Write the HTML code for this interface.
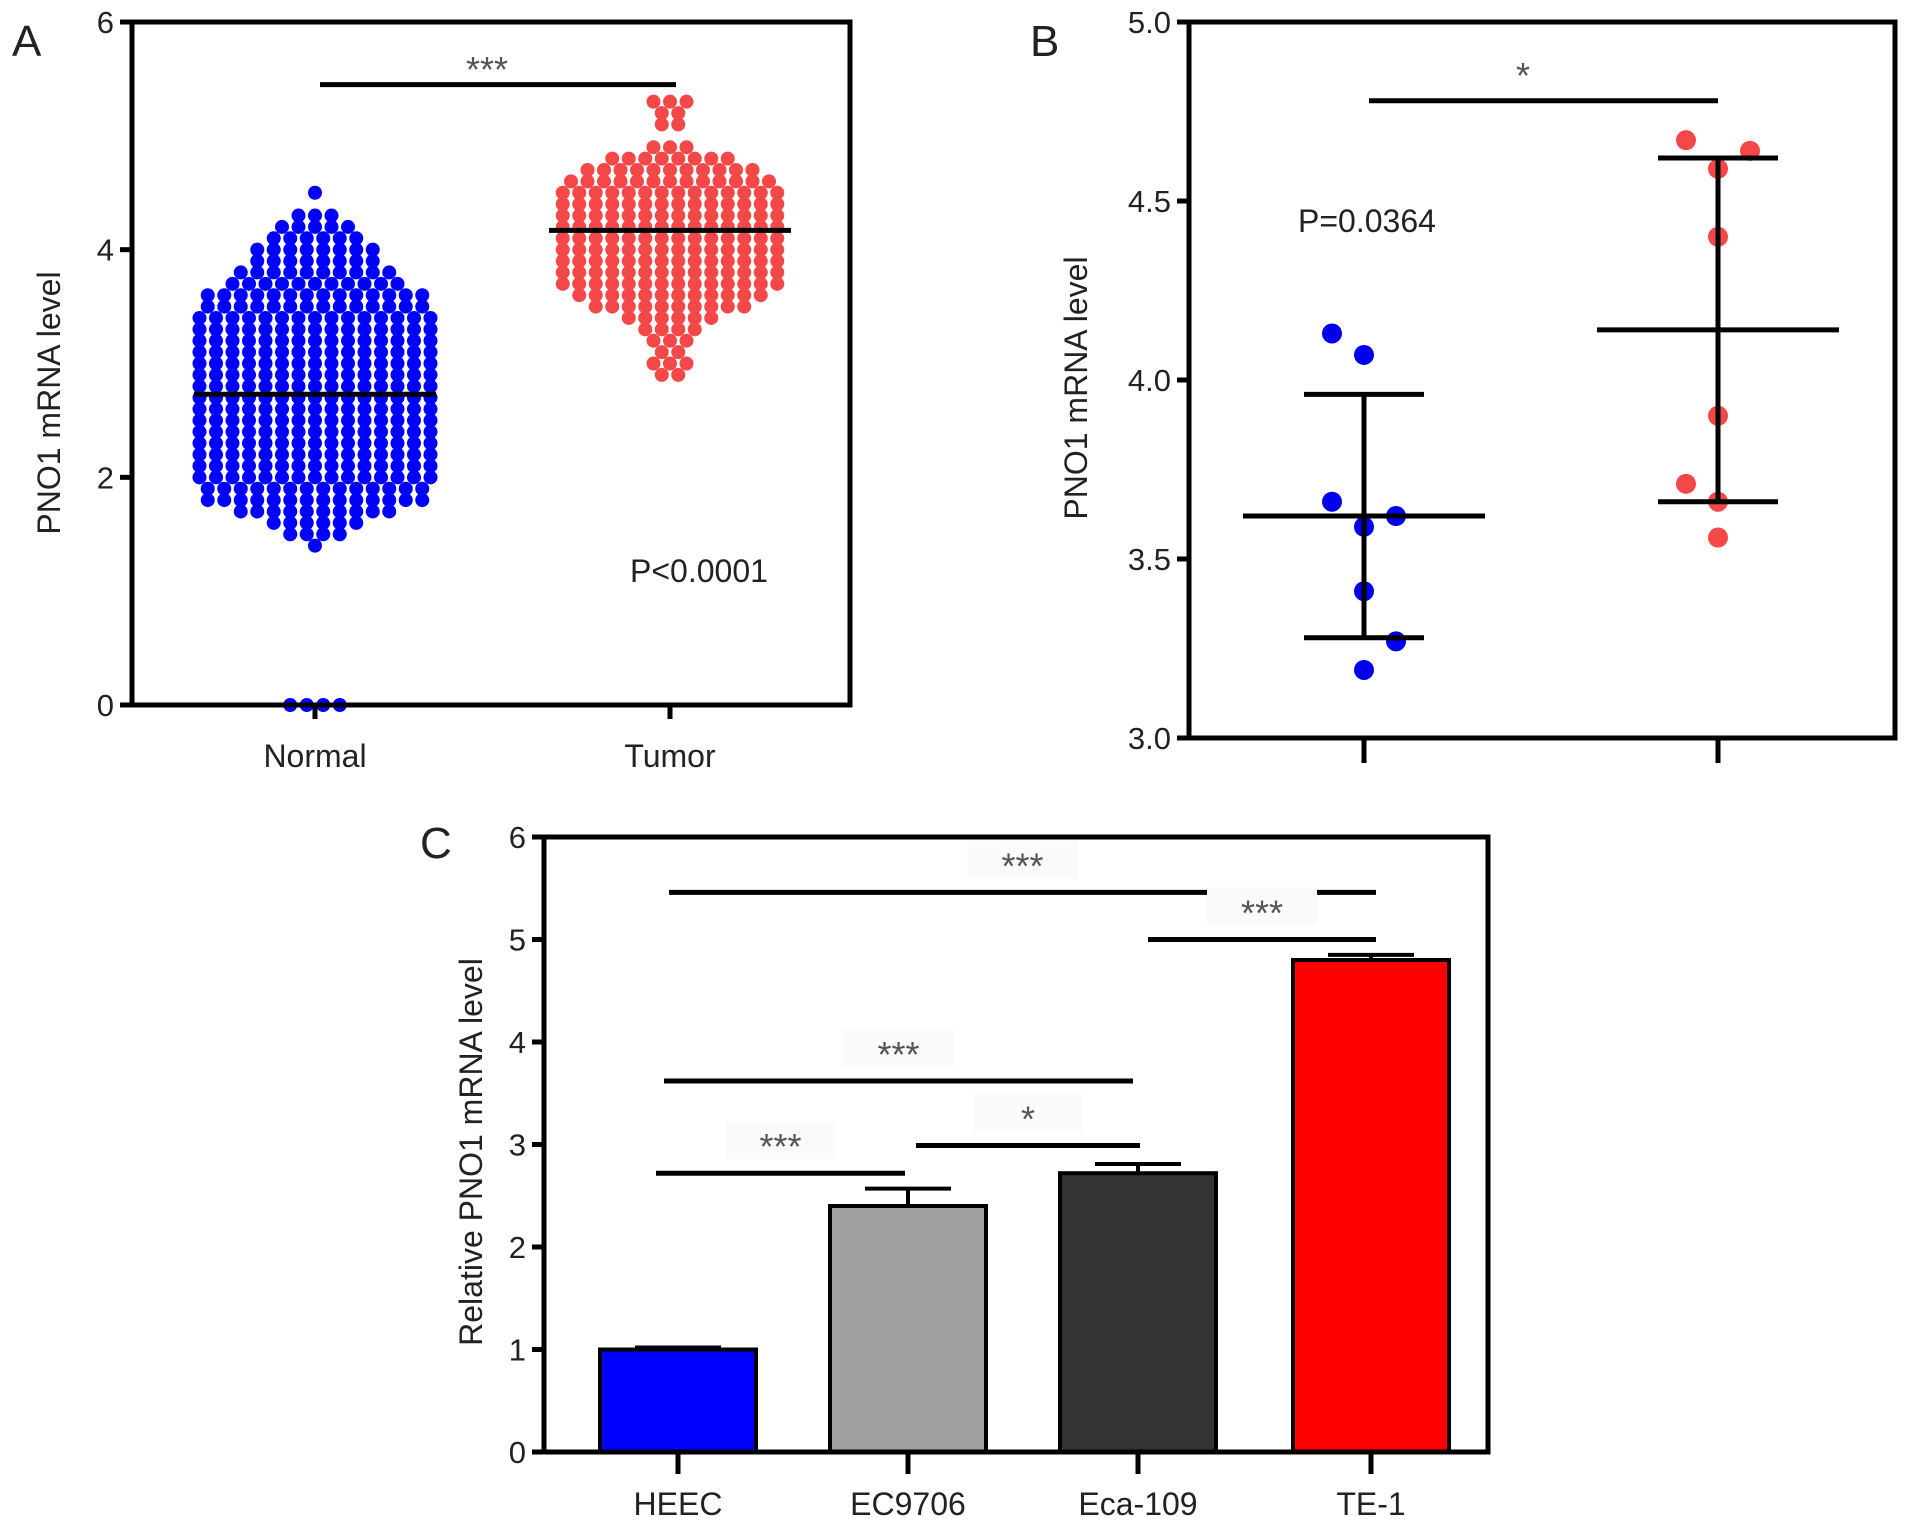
<!DOCTYPE html>
<html><head><meta charset="utf-8"><style>
html,body{margin:0;padding:0;background:#fff}
svg{display:block;font-family:"Liberation Sans",Arial,sans-serif}
</style></head><body>
<svg id="fig" width="1913" height="1528" viewBox="0 0 1913 1528" xmlns="http://www.w3.org/2000/svg"></svg>
<script>
// ---------- Panel A data ----------
const aGroups = ["Normal","Tumor"];
const aTicks = [0,2,4,6];
const aNormalLevels = [1.4,1.5,1.6,1.7,1.8,1.9,2.0,2.1,2.2,2.3,2.4,2.5,2.6,2.7,2.8,2.9,3.0,3.1,3.2,3.3,3.4,3.5,3.6,3.7,3.8,3.9,4.0,4.1,4.2,4.3,4.5,0];
const aNormalCounts = [1,4,6,10,14,14,15,15,15,15,15,15,15,15,15,15,15,15,15,15,15,14,14,11,10,8,8,6,5,3,1,4];
const aTumorLevels = [2.9,3.0,3.1,3.2,3.3,3.4,3.5,3.6,3.7,3.8,3.9,4.0,4.1,4.2,4.3,4.4,4.5,4.6,4.7,4.8,4.9,5.1,5.2,5.3];
const aTumorCounts = [2,3,2,3,4,6,10,12,14,14,14,14,14,14,14,14,14,13,11,8,3,2,2,3];
const aMeans = [2.73,4.17];
const aSigY = 5.45;
// ---------- Panel B data ----------
const bTicks = [3.0,3.5,4.0,4.5,5.0];
const bNormalVals = [4.13,4.07,3.66,3.62,3.59,3.41,3.27,3.19];
const bNormalJit = [-1,0,-1,1,0,0,1,0];
const bTumorVals = [4.67,4.64,4.59,4.40,3.90,3.71,3.66,3.56];
const bTumorJit = [-1,1,0,0,0,-1,0,0];
const bMeans = [3.62,4.14];
const bSD = [0.34,0.48];
const bSigY = 4.78;
// ---------- Panel C data ----------
const cCats = ["HEEC","EC9706","Eca-109","TE-1"];
const cVals = [1.0,2.4,2.72,4.8];
const cErr = [0.02,0.17,0.09,0.05];
const cColors = ["#0000ff","#a0a0a0","#333333","#ff0000"];
const cTicks = [0,1,2,3,4,5,6];
const cSigFrom = [0,2,0,1,0];
const cSigTo = [3,3,2,2,1];
const cSigY = [5.46,5.0,3.62,2.99,2.72];
const cSigLbl = ["***","***","***","*","***"];

const NS="http://www.w3.org/2000/svg";
const svg=document.getElementById('fig');
function el(tag,attrs,parent){const e=document.createElementNS(NS,tag);for(const k in attrs)e.setAttribute(k,attrs[k]);(parent||svg).appendChild(e);return e;}
function txt(s,attrs,parent){const t=el('text',attrs,parent);t.textContent=s;return t;}

// ===== Panel A =====
const A={x0:132,x1:850,y0:705,y1:22,min:0,max:6};
const ay=v=>A.y0-(v-A.min)/(A.max-A.min)*(A.y0-A.y1);
const aX=[315,670];
const gA=el('g',{});


function swarm(levels,counts,cx,color,g,name){
  levels.forEach((lv,i)=>{
    const n=counts[i];
    for(let k=0;k<n;k++){
      const off=(k-(n-1)/2)*16.5;
      const c=el('circle',{cx:cx+off,cy:ay(lv),r:7,fill:color},g);
      
      
    }
  });
}
swarm(aNormalLevels,aNormalCounts,aX[0],"#0000ff",gA,'normal-point');
swarm(aTumorLevels,aTumorCounts,aX[1],"#f44848",gA,'tumor-point');
aMeans.forEach((m,i)=>{const l=el('line',{x1:aX[i]-121,x2:aX[i]+121,y1:ay(m),y2:ay(m),stroke:'#000','stroke-width':5},gA);
});
const aFrame=el('rect',{x:A.x0,y:A.y1,width:A.x1-A.x0,height:A.y0-A.y1,fill:'none',stroke:'#000','stroke-width':5},gA);

aTicks.forEach(t=>{el('line',{x1:A.x0-12,x2:A.x0,y1:ay(t),y2:ay(t),stroke:'#000','stroke-width':5},gA);
 const tl=txt(String(t),{x:A.x0-18,y:ay(t)+11,'font-size':31,'text-anchor':'end',fill:'#222'},gA);
 });
aGroups.forEach((g,i)=>{el('line',{x1:aX[i],x2:aX[i],y1:A.y0,y2:A.y0+14,stroke:'#000','stroke-width':5},gA);
 const tl=txt(g,{x:aX[i],y:767,'font-size':32,'text-anchor':'middle',fill:'#222'},gA);
 });
const aSig=el('line',{x1:320,x2:676,y1:ay(aSigY),y2:ay(aSigY),stroke:'#000','stroke-width':5},gA);

let t;
t=txt('***',{x:487,y:82,'font-size':36,'text-anchor':'middle',fill:'#555'},gA);
t=txt('P<0.0001',{x:630,y:582,'font-size':32,fill:'#222'},gA);
t=txt('A',{x:12,y:56,'font-size':44,fill:'#222'},gA);
t=txt('PNO1 mRNA level',{x:0,y:0,'font-size':32,'text-anchor':'middle',fill:'#222',transform:'translate(60,403) rotate(-90)'},gA);

// ===== Panel B =====
const B={x0:1189,x1:1895,y0:738,y1:22,min:3,max:5};
const by=v=>B.y0-(v-B.min)/(B.max-B.min)*(B.y0-B.y1);
const bX=[1364,1718];
const gB=el('g',{});


function pts(vals,jit,cx,color,name){vals.forEach((v,i)=>{const c=el('circle',{cx:cx+jit[i]*32,cy:by(v),r:10,fill:color},gB);
 });}
pts(bNormalVals,bNormalJit,bX[0],"#0000ee",'normal-point');
pts(bTumorVals,bTumorJit,bX[1],"#f44848",'tumor-point');
bMeans.forEach((m,i)=>{
 const cx=bX[i];
 const l=el('line',{x1:cx-121,x2:cx+121,y1:by(m),y2:by(m),stroke:'#000','stroke-width':5},gB);
 
 const v=el('line',{x1:cx,x2:cx,y1:by(m+bSD[i]),y2:by(m-bSD[i]),stroke:'#000','stroke-width':5},gB);
 
 [m+bSD[i],m-bSD[i]].forEach(y=>{const c=el('line',{x1:cx-60,x2:cx+60,y1:by(y),y2:by(y),stroke:'#000','stroke-width':5},gB);
  });
});
const bFrame=el('rect',{x:B.x0,y:B.y1,width:B.x1-B.x0,height:B.y0-B.y1,fill:'none',stroke:'#000','stroke-width':5},gB);

bTicks.forEach(v=>{el('line',{x1:B.x0-12,x2:B.x0,y1:by(v),y2:by(v),stroke:'#000','stroke-width':5},gB);
 const tl=txt(v.toFixed(1),{x:B.x0-18,y:by(v)+11,'font-size':31,'text-anchor':'end',fill:'#222'},gB);
 });
bX.forEach(x=>el('line',{x1:x,x2:x,y1:B.y0,y2:B.y0+25,stroke:'#000','stroke-width':5},gB));
const bSig=el('line',{x1:1369,x2:1718,y1:by(bSigY),y2:by(bSigY),stroke:'#000','stroke-width':5},gB);

t=txt('*',{x:1523,y:88,'font-size':36,'text-anchor':'middle',fill:'#555'},gB);
t=txt('P=0.0364',{x:1298,y:232,'font-size':32,fill:'#222'},gB);
t=txt('B',{x:1030,y:56,'font-size':44,fill:'#222'},gB);
t=txt('PNO1 mRNA level',{x:0,y:0,'font-size':32,'text-anchor':'middle',fill:'#222',transform:'translate(1087,388) rotate(-90)'},gB);

// ===== Panel C =====
const C={x0:544,x1:1488,y0:1452,y1:837,min:0,max:6};
const cy=v=>C.y0-(v-C.min)/(C.max-C.min)*(C.y0-C.y1);
const cX=[678,908,1138,1371];
const bw=156;
const gC=el('g',{});


cVals.forEach((v,i)=>{
 const x=cX[i];
 const e=el('line',{x1:x,x2:x,y1:cy(v),y2:cy(v+cErr[i]),stroke:'#000','stroke-width':4},gC);
 
 const c=el('line',{x1:x-43,x2:x+43,y1:cy(v+cErr[i]),y2:cy(v+cErr[i]),stroke:'#000','stroke-width':4},gC);
 
 const r=el('rect',{x:x-bw/2,y:cy(v),width:bw,height:C.y0-cy(v),fill:cColors[i],stroke:'#000','stroke-width':4},gC);
 
});
const cFrame=el('rect',{x:C.x0,y:C.y1,width:C.x1-C.x0,height:C.y0-C.y1,fill:'none',stroke:'#000','stroke-width':5},gC);

cTicks.forEach(v=>{el('line',{x1:C.x0-12,x2:C.x0,y1:cy(v),y2:cy(v),stroke:'#000','stroke-width':5},gC);
 const tl=txt(String(v),{x:C.x0-18,y:cy(v)+11,'font-size':31,'text-anchor':'end',fill:'#222'},gC);
 });
cCats.forEach((c,i)=>{el('line',{x1:cX[i],x2:cX[i],y1:C.y0,y2:C.y0+22,stroke:'#000','stroke-width':5},gC);
 const tl=txt(c,{x:cX[i],y:1515,'font-size':32,'text-anchor':'middle',fill:'#222'},gC);
 });
cSigFrom.forEach((f,i)=>{
 const to=cSigTo[i];
 const xa=cX[f]-(f===0?(to===1?22:(to===2?14:9)):(f===1?-8:-10));
 const xb=cX[to]+(to===3?5:(to===2?(f===1?2:-5):-3));
 const y=cy(cSigY[i]);
 const l=el('line',{x1:xa,x2:xb,y1:y,y2:y,stroke:'#000','stroke-width':5},gC);
 
 const mid=(xa+xb)/2;
 const bg=el('rect',{x:mid-55,y:y-52,width:110,height:38,fill:'#fafafa'},gC);
 
 const s=txt(cSigLbl[i],{x:mid,y:y-14,'font-size':36,'text-anchor':'middle',fill:'#555'},gC);
 
});
t=txt('C',{x:420,y:858,'font-size':44,fill:'#222'},gC);
t=txt('Relative PNO1 mRNA level',{x:0,y:0,'font-size':32,'text-anchor':'middle',fill:'#222',transform:'translate(482,1152) rotate(-90)'},gC);
</script>
</body></html>
